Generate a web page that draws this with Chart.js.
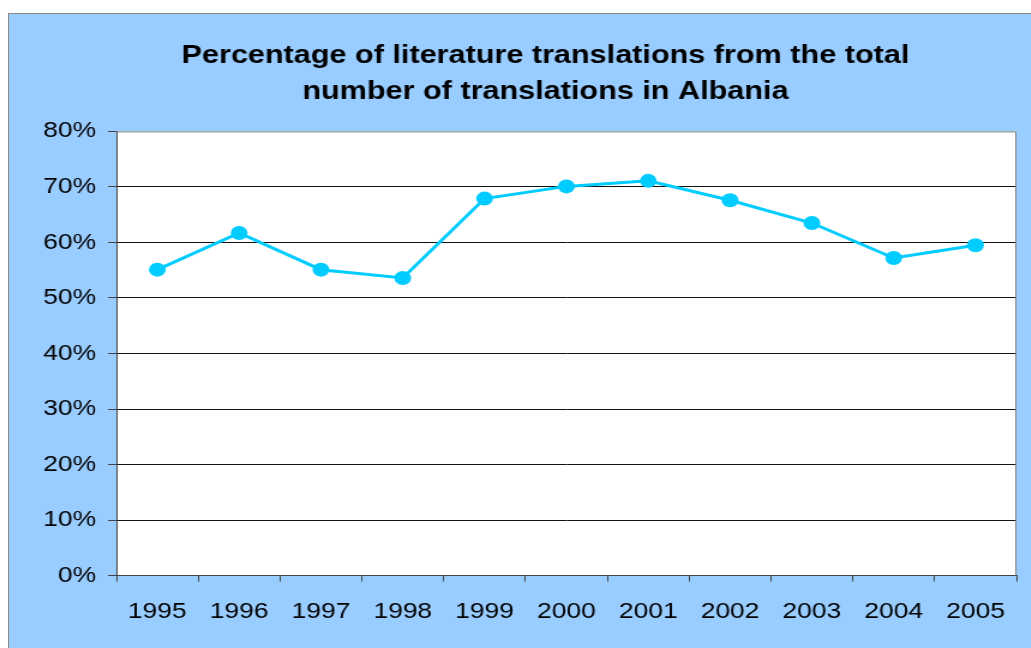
<!DOCTYPE html>
<html>
<head>
<meta charset="utf-8">
<script src="https://cdn.jsdelivr.net/npm/chart.js@4"></script>
<style>
    html, body { margin: 0; padding: 0; background: #fff; overflow: hidden; }
    #frame {
        position: absolute; left: 8px; top: 13px;
        width: 1100px; height: 700px;
        background: #99ccff; border: 1px solid #888;
    }
    /* the original picture is stretched sideways, so the canvas is too */
    #chart {
        position: absolute; left: 0; top: 0;
        transform: scaleX(1.2); transform-origin: 0 0;
    }
</style>
</head>
<body>
<div id="frame"></div>
<canvas id="chart" width="859" height="648"></canvas>
<script>
// Chart data
const years = ['1995', '1996', '1997', '1998', '1999', '2000', '2001', '2002', '2003', '2004', '2005'];
const literatureShare = [55.1, 61.7, 55.1, 53.6, 67.9, 70.1, 71.1, 67.6, 63.5, 57.2, 59.5];
const yMin = 0;
const yMax = 80;
const yStep = 10;
const titleLines = ['Percentage of literature translations from the total', 'number of translations in Albania'];

// White plot area with grey frame on top and right
const plotArea = {
    id: 'plotArea',
    afterLayout(chart) {
        // y axis box is kept narrow so the title stays centred; widen it again so labels aren't clipped
        chart.scales.y.left = 0;
    },
    beforeDraw(chart) {
        const { ctx, chartArea: a } = chart;
        ctx.save();
        ctx.fillStyle = '#fff';
        ctx.fillRect(a.left, a.top, a.right - a.left, a.bottom - a.top);
        ctx.restore();
    },
    afterDraw(chart) {
        const { ctx, chartArea: a } = chart;
        ctx.save();
        ctx.strokeStyle = '#808080';
        ctx.lineWidth = 1;
        ctx.beginPath();
        ctx.moveTo(a.left, a.top + 0.5);
        ctx.lineTo(a.right - 0.5, a.top + 0.5);
        ctx.lineTo(a.right - 0.5, a.bottom);
        ctx.stroke();
        ctx.restore();
    }
};

new Chart(document.getElementById('chart'), {
    type: 'line',
    data: {
        labels: years,
        datasets: [{
            data: literatureShare,
            borderColor: '#00ccff',
            backgroundColor: '#00ccff',
            borderWidth: 3,
            pointRadius: 7,
            pointHoverRadius: 7,
            pointBorderWidth: 0,
            tension: 0
        }]
    },
    options: {
        responsive: false,
        animation: false,
        devicePixelRatio: 1,
        layout: { padding: { left: 62, right: 12, top: 38, bottom: 6 } },
        plugins: {
            legend: { display: false },
            tooltip: { enabled: false },
            title: {
                display: true,
                text: titleLines,
                color: '#000',
                font: { family: 'Liberation Sans, Arial, sans-serif', size: 25.5, weight: 'bold', lineHeight: 1.42 },
                padding: { top: 0, bottom: 21 }
            }
        },
        scales: {
            x: {
                offset: true,
                grid: { offset: true, drawOnChartArea: false, drawTicks: true, tickLength: 6, tickColor: '#444' },
                border: { color: '#444', width: 1 },
                ticks: {
                    color: '#000',
                    padding: 17,
                    maxRotation: 0,
                    font: { family: 'Liberation Sans, Arial, sans-serif', size: 22 }
                }
            },
            y: {
                min: yMin,
                max: yMax,
                afterFit(scale) {
                    scale.width = 35;
                },
                grid: {
                    color: ctx => ctx.tick && ctx.tick.value === yMax ? 'rgba(0,0,0,0)' : '#111',
                    tickColor: '#444',
                    tickLength: 7
                },
                border: { color: '#444', width: 1 },
                ticks: {
                    stepSize: yStep,
                    color: '#000',
                    padding: 10,
                    font: { family: 'Liberation Sans, Arial, sans-serif', size: 22 },
                    callback: v => v + '%'
                }
            }
        }
    },
    plugins: [plotArea]
});
</script>
</body>
</html>
